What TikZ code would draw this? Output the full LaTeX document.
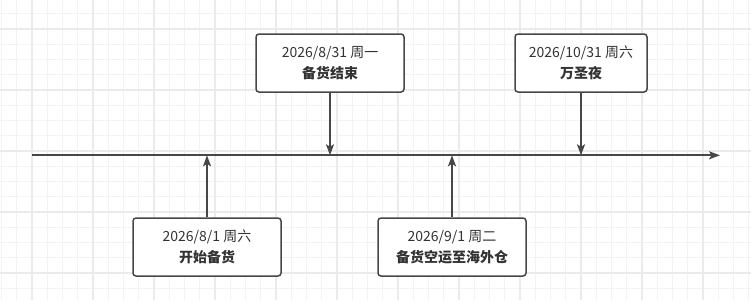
\documentclass[tikz,border=0pt]{standalone}
\usepackage{fontspec}
\setmainfont{Noto Sans CJK SC}
\usetikzlibrary{arrows.meta}
\definecolor{stroke}{HTML}{474747}
\definecolor{txt}{HTML}{333333}
\definecolor{gridminor}{HTML}{F3F3F3}
\definecolor{gridmajor}{HTML}{EBEBEB}
\tikzset{
  minorgrid/.style={gridminor, line width=1pt},
  majorgrid/.style={gridmajor, line width=1.2pt},
  evbox/.style={draw=stroke, line width=1.5pt, rounded corners=3pt, fill=white,
    minimum height=58pt, inner sep=0pt, align=center, text=txt,
    font=\fontsize{14}{21.5}\selectfont},
  arr/.style={draw=stroke, line width=1.9pt, -{Stealth[length=11pt, width=8pt, inset=2.5pt]}},
}
\begin{document}
\begin{tikzpicture}[x=1pt, y=-1pt]
\useasboundingbox (0,0) rectangle (751,300);
\fill[white] (0,0) rectangle (751,300);
\foreach \k in {0,...,49} \draw[minorgrid] ({1.5+15.25*\k},0) -- ++(0,300);
\foreach \j in {1,...,19} \draw[minorgrid] (0,{-1.5+15.25*\j}) -- ++(751,0);
\foreach \k in {0,...,11} \draw[majorgrid] ({32+61*\k},0) -- ++(0,300);
\foreach \j in {0,...,4} \draw[majorgrid] (0,{29+61*\j}) -- ++(751,0);

\coordinate (tl0) at (32,155.3);
\coordinate (tl1) at (720,155.3);
\draw[arr] (tl0) -- (tl1);

\node[evbox, minimum width=148pt] (b1) at (207,247) {2026/8/1 周六\\\textbf{开始备货}};
\node[evbox, minimum width=148pt] (b2) at (330,63) {2026/8/31 周一\\\textbf{备货结束}};
\node[evbox, minimum width=148pt] (b4) at (452,247) {2026/9/1 周二\\\textbf{备货空运至海外仓}};
\node[evbox, minimum width=132pt] (b3) at (581,63) {2026/10/31 周六\\\textbf{万圣夜}};

\draw[arr] (b1.north) -- (b1.north |- tl0);
\draw[arr] (b2.south) -- (b2.south |- tl0);
\draw[arr] (b4.north) -- (b4.north |- tl0);
\draw[arr] (b3.south) -- (b3.south |- tl0);
\end{tikzpicture}
\end{document}
